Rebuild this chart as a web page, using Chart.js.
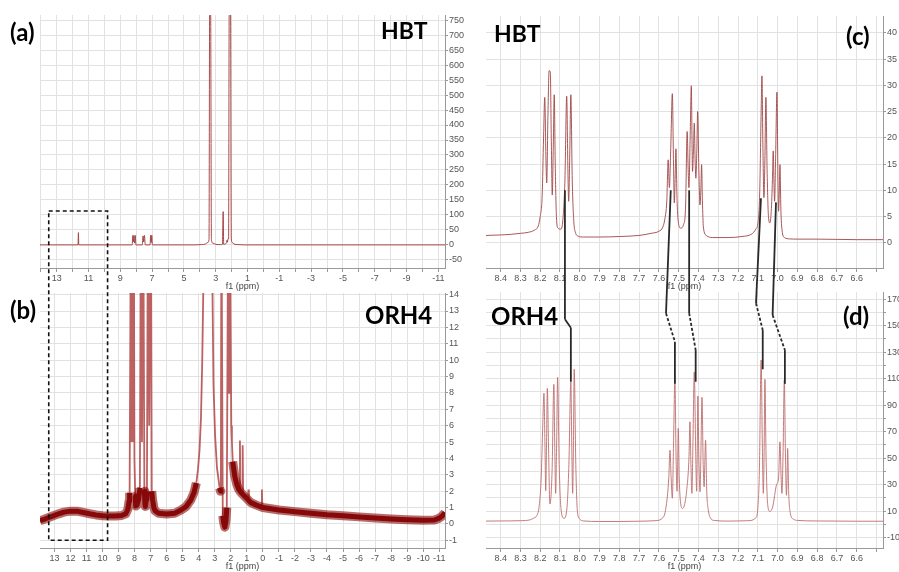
<!DOCTYPE html>
<html>
<head>
<meta charset="utf-8">
<script src="https://cdn.jsdelivr.net/npm/chart.js@4.4.0/dist/chart.umd.min.js"></script>
<style>
  html, body { margin: 0; padding: 0; background: #fff; }
  #wrap { position: relative; width: 899px; height: 572px; overflow: hidden; }
  #wrap canvas { position: absolute; }
  .lbl { position: absolute; font-family: Lato, "Open Sans", sans-serif; font-weight: 700; color: #000; line-height: 1; white-space: nowrap; }
</style>
</head>
<body>
<div id="wrap">
  <canvas id="chartA" width="470" height="292" style="left:0;top:0"></canvas>
  <canvas id="chartB" width="470" height="290" style="left:0;top:282px"></canvas>
  <canvas id="chartC" width="429" height="292" style="left:470px;top:0"></canvas>
  <canvas id="chartD" width="429" height="290" style="left:470px;top:282px"></canvas>
  <canvas id="overlay" width="899" height="572" style="left:0;top:0"></canvas>
  <div class="lbl" style="left:10px;top:20px;font-size:24px">(a)</div>
  <div class="lbl" style="left:381px;top:19px;font-size:23px">HBT</div>
  <div class="lbl" style="left:10px;top:298px;font-size:24px">(b)</div>
  <div class="lbl" style="left:365px;top:303px;font-size:24px">ORH4</div>
  <div class="lbl" style="left:494px;top:22px;font-size:23px">HBT</div>
  <div class="lbl" style="left:846px;top:24px;font-size:24px">(c)</div>
  <div class="lbl" style="left:491px;top:304px;font-size:24px">ORH4</div>
  <div class="lbl" style="left:843px;top:304px;font-size:24px">(d)</div>
</div>
<script>
// ---- data: [ppm, intensity] ----

// (a) HBT full spectrum
const hbtFull = [
  [14.05, 0], [11.66, 0], [11.635, 41], [11.61, 0],
  [8.25, 0], [8.21, 32], [8.18, 10], [8.14, 31], [8.1, 6], [8.06, 32], [8.02, 0],
  [7.62, 0], [7.57, 30], [7.53, 10], [7.48, 32], [7.43, 0],
  [7.13, 0], [7.09, 33], [7.05, 8], [7.02, 32], [6.98, 0],
  [4.3, 0], [3.9, 1], [3.65, 3], [3.5, 8], [3.42, 18], [3.38, 800], [3.32, 800], [3.27, 18],
  [3.18, 6], [3.0, 2], [2.7, 1], [2.58, 2], [2.53, 111], [2.5, 2], [2.4, 3], [2.32, 8],
  [2.29, 16], [2.26, 9], [2.23, 20], [2.19, 20], [2.15, 800], [2.07, 800], [2.02, 20],
  [1.96, 8], [1.85, 3], [1.6, 1], [1.2, 0], [-11.42, 0]
];

// (b) ORH4 full spectrum: centre of the noisy baseline band
const orhBand = [
  [13.9, 0.2], [13.6, 0.3], [13.2, 0.45], [12.8, 0.6], [12.4, 0.72], [12.0, 0.78], [11.6, 0.78],
  [11.2, 0.7], [10.8, 0.62], [10.4, 0.55], [10.0, 0.5], [9.6, 0.48], [9.2, 0.48], [8.8, 0.52],
  [8.55, 0.62], [8.42, 0.9], [8.34, 1.4], [8.31, 1.9], [8.3, null],
  [7.96, 1.7], [7.93, 1.1], [7.85, 1.15], [7.75, 1.5], [7.69, 2.0], [7.67, 2.2], [7.66, null],
  [7.39, 2.0], [7.36, 1.3], [7.33, 1.07], [7.27, 1.5], [7.23, 2.0], [7.22, null],
  [6.93, 2.0], [6.88, 1.5], [6.8, 1.0], [6.72, 0.8], [6.5, 0.65], [6.0, 0.6], [5.5, 0.65],
  [5.1, 0.85], [4.8, 1.05], [4.5, 1.45], [4.3, 1.9], [4.15, 2.5], [4.14, null],
  [2.7, 2.2], [2.64, 2.0], [2.62, 2.1], [2.61, null],
  [2.5, 0.5], [2.44, 0.05], [2.37, -0.2], [2.3, 0.2], [2.25, 1.0], [2.24, null],
  [1.88, 3.8], [1.75, 2.9], [1.62, 2.4], [1.5, 2.1], [1.35, 1.9], [1.15, 1.7],
  [0.95, 1.5], [0.75, 1.3], [0.4, 1.15], [0.0, 1.0], [-1, 0.85], [-2, 0.75], [-3, 0.65],
  [-4, 0.56], [-5, 0.5], [-6, 0.43], [-7, 0.36], [-8, 0.3], [-9, 0.26], [-10, 0.22],
  [-10.7, 0.24], [-11.0, 0.35], [-11.2, 0.5], [-11.36, 0.7]
];

// (b) ORH4 full spectrum: peaks running off the top of the panel
const orhPeaks = [
  [8.31, 1.9], [8.23, 20], [8.19, 5], [8.15, 20], [8.1, 5], [8.05, 20], [8.01, 4], [7.96, 1.7], [7.95, null],
  [7.67, 2.2], [7.61, 20], [7.54, 5], [7.46, 20], [7.39, 2.0], [7.38, null],
  [7.23, 2.0], [7.17, 20], [7.09, 6], [6.98, 20], [6.93, 2.0], [6.92, null],
  [4.15, 2.5], [4.05, 3.3], [3.95, 4.5], [3.86, 6.5], [3.78, 10], [3.72, 14], [3.66, 20], [3.2, 20],
  [3.14, 14], [3.08, 8.5], [2.98, 5.4], [2.86, 3.4], [2.75, 2.6], [2.7, 2.2], [2.62, 2.1],
  [2.585, 20], [2.55, 20], [2.5, 0.5], [2.49, null],
  [2.25, 1.0], [2.16, 20], [2.11, 8], [2.05, 20], [1.97, 6], [1.93, 5], [1.88, 3.8], [1.87, null],
  [1.46, 2.0], [1.43, 5.1], [1.4, 2.0], [1.39, null],
  [1.29, 1.9], [1.26, 4.8], [1.23, 1.9], [1.22, null],
  [0.93, 1.5], [0.9, 2.1], [0.87, 1.5], [0.86, null],
  [0.09, 1.0], [0.06, 2.1], [0.03, 1.0]
];

// (c) HBT aromatic region
const hbtZoom = [
  [8.474, 1.4], [8.4, 1.5], [8.35, 1.6], [8.3, 1.8], [8.26, 2.0], [8.23, 2.4], [8.21, 3.2],
  [8.2, 5.0], [8.19, 9], [8.183, 20], [8.177, 27.7], [8.171, 16], [8.167, 11.4], [8.161, 24],
  [8.155, 32.8], [8.149, 32.5], [8.144, 20], [8.139, 9.1], [8.134, 18], [8.129, 28.2],
  [8.124, 15], [8.118, 5], [8.11, 2.8], [8.095, 2.6], [8.085, 4.5], [8.075, 12], [8.066, 27.9],
  [8.06, 14], [8.056, 7.9], [8.051, 16], [8.045, 28.2], [8.038, 12], [8.03, 4], [8.022, 2.0],
  [8.01, 1.3], [7.98, 1.1], [7.9, 1.1], [7.8, 1.2], [7.7, 1.4], [7.64, 1.8], [7.6, 2.2],
  [7.58, 3.0], [7.57, 4.5], [7.56, 8], [7.553, 15.8], [7.547, 10.5], [7.54, 18], [7.532, 28.4],
  [7.526, 15], [7.522, 7.6], [7.518, 12], [7.514, 17.9], [7.508, 8], [7.5, 3.5], [7.49, 2.8],
  [7.475, 3.5], [7.465, 7], [7.457, 21.2], [7.452, 14], [7.448, 10.5], [7.442, 20], [7.436, 29.9],
  [7.432, 18], [7.43, 13.6], [7.425, 18], [7.421, 22.8], [7.417, 16], [7.413, 12.3], [7.408, 18],
  [7.404, 25], [7.398, 14], [7.392, 7.2], [7.388, 10], [7.384, 14.9], [7.38, 8], [7.375, 3],
  [7.36, 1.4], [7.33, 1.0], [7.25, 1.0], [7.18, 1.2], [7.13, 1.7], [7.11, 2.6], [7.098, 4.1],
  [7.09, 10], [7.083, 25], [7.079, 31.8], [7.074, 18], [7.069, 8.6], [7.064, 16], [7.059, 27.7],
  [7.053, 14], [7.046, 5], [7.039, 3.8], [7.032, 6], [7.026, 12], [7.022, 17.5], [7.018, 11],
  [7.015, 7.9], [7.01, 16], [7.003, 28.7], [6.998, 12], [6.995, 6.0], [6.991, 10], [6.988, 14.9],
  [6.983, 6], [6.976, 2], [6.965, 1.0], [6.94, 0.75], [6.9, 0.7], [6.8, 0.7], [6.7, 0.65],
  [6.6, 0.6], [6.467, 0.6]
];

// (d) ORH4 aromatic region
const orhZoom = [
  [8.474, 2.5], [8.4, 2.6], [8.3, 2.8], [8.25, 3.5], [8.23, 5], [8.22, 6], [8.205, 14],
  [8.195, 35], [8.188, 70], [8.181, 99], [8.176, 60], [8.172, 25.4], [8.168, 60], [8.164, 102.6],
  [8.158, 60], [8.151, 15.4], [8.14, 40], [8.131, 105.6], [8.126, 55], [8.122, 23.4], [8.117, 60],
  [8.112, 110.9], [8.104, 45], [8.095, 12], [8.08, 4.6], [8.065, 12], [8.055, 45], [8.045, 107.6],
  [8.04, 55], [8.036, 23.4], [8.032, 60], [8.028, 117], [8.02, 45], [8.012, 10], [8.0, 4],
  [7.98, 2.6], [7.9, 2.2], [7.8, 2.2], [7.7, 2.4], [7.62, 2.8], [7.58, 5], [7.565, 12], [7.55, 35],
  [7.544, 56], [7.538, 35], [7.532, 19.7], [7.526, 60], [7.519, 109], [7.513, 50], [7.508, 25],
  [7.505, 45], [7.502, 72.4], [7.497, 35], [7.49, 16], [7.48, 12], [7.47, 15], [7.46, 25],
  [7.448, 50], [7.443, 77.4], [7.438, 45], [7.433, 23.4], [7.428, 60], [7.421, 115], [7.414, 55],
  [7.409, 25], [7.406, 55], [7.403, 96.8], [7.398, 50], [7.392, 24.6], [7.388, 50], [7.382, 95.8],
  [7.376, 45], [7.371, 28.4], [7.368, 45], [7.364, 63.6], [7.358, 25], [7.35, 10.8], [7.34, 5],
  [7.32, 3], [7.25, 2.5], [7.15, 2.8], [7.11, 5], [7.1, 12], [7.092, 40], [7.083, 124], [7.077, 60],
  [7.072, 23.4], [7.068, 55], [7.064, 109.4], [7.058, 50], [7.05, 15], [7.039, 9.8], [7.025, 13],
  [7.005, 30], [6.995, 35], [6.988, 62.3], [6.982, 35], [6.978, 23.4], [6.972, 55], [6.966, 108.9],
  [6.96, 50], [6.955, 22], [6.952, 35], [6.949, 57.3], [6.944, 25], [6.935, 8], [6.92, 4],
  [6.9, 3], [6.8, 2.6], [6.7, 2.5], [6.6, 2.4], [6.467, 2.4]
];

// connector lines between matching peaks of (c) and (d)
const linkStartC = [[8.075, 10], [7.54, 10], [7.447, 10], [7.084, 8.5], [7.008, 7.7]];
const linkKneeD = [[8.075, 154.7], [7.564, 159.2], [7.447, 159.4], [7.109, 166.8], [7.025, 157.9]];
const linkBendD = [[8.045, 148.4], [7.519, 137.8], [7.414, 131.5], [7.075, 146.6], [6.963, 131.5]];
const linkEndD = [[8.045, 107.6], [7.519, 106], [7.414, 107.6], [7.075, 117], [6.963, 106]];
const linkDashed = [false, true, true, true, true];

// dashed box marking the 13.5 - 9.8 ppm window in (a) and (b)
const boxPpm = [13.5, 9.8];
const boxTopA = 113;
const boxBottomB = -1;

// ---- helpers ----
const tickFont = { family: "'Liberation Sans', Arial, sans-serif", size: 9 };
const gridColor = "#e2e2e2";

function xAxis(min, max, step, labelFn) {
  return {
    type: "linear",
    reverse: true,
    min: min,
    max: max,
    ticks: {
      stepSize: step, autoSkip: false, maxRotation: 0, includeBounds: false,
      font: tickFont, color: "#555", padding: 1, callback: labelFn,
    },
    grid: { color: gridColor, tickLength: 4, tickColor: "#999" },
    border: { color: "#999" },
    title: { display: true, text: "f1 (ppm)", font: tickFont, color: "#444", padding: 0 },
    afterFit: function (s) { s.height = 24; },
  };
}

function yAxis(min, max, step, labelFn, width) {
  return {
    position: "right",
    min: min,
    max: max,
    ticks: {
      stepSize: step, autoSkip: false, includeBounds: false,
      font: tickFont, color: "#555", padding: 1, callback: labelFn,
    },
    grid: { color: gridColor, tickLength: 3, tickColor: "#999" },
    border: { color: "#999" },
    afterFit: function (s) { s.width = width; },
  };
}

function makePanel(id, datasets, xScale, yScale, pad) {
  return new Chart(document.getElementById(id), {
    type: "line",
    data: { datasets: datasets },
    options: {
      responsive: false,
      animation: false,
      devicePixelRatio: 1,
      layout: { padding: pad },
      plugins: { legend: { display: false }, tooltip: { enabled: false } },
      elements: { point: { radius: 0 } },
      scales: { x: xScale, y: yScale },
    },
  });
}

const oddOnly = (v) => (Math.abs(Math.round(v)) % 2 === 1 ? String(Math.round(v)) : "");
const intLabel = (v) => String(Math.round(v));
// the 6.5 tick sits at the very edge and carries no label in the original
const oneDec = (v) => (v < 6.55 ? "" : v.toFixed(1));
const oddTens = (v) => (Math.abs(Math.round(v)) % 20 === 10 ? String(Math.round(v)) : "");

// ---- panels ----
const chartA = makePanel("chartA",
  [{ data: hbtFull, borderColor: "rgba(160,55,55,0.9)", borderWidth: 1, cubicInterpolationMode: "monotone" }],
  xAxis(-11.42, 14.05, 1, oddOnly),
  yAxis(-77, 767, 50, intLabel, 25),
  { left: 40, top: 15, right: 0, bottom: 0 });

const chartB = makePanel("chartB",
  [
    { data: orhBand, borderColor: "#860808", borderWidth: 5, tension: 0, borderJoinStyle: "round", borderCapStyle: "butt" },
    { data: orhBand, borderColor: "rgba(135,10,10,0.6)", borderWidth: 9, tension: 0, borderJoinStyle: "round", borderCapStyle: "butt" },
    { data: orhPeaks, borderColor: "rgba(178,70,70,0.85)", borderWidth: 1.8, tension: 0 },
  ],
  xAxis(-11.36, 13.9, 1, intLabel),
  yAxis(-1.47, 14.1, 1, intLabel, 25),
  { left: 40, top: 11, right: 0, bottom: 0 });

const chartC = makePanel("chartC",
  [{ data: hbtZoom, borderColor: "rgba(160,70,70,0.9)", borderWidth: 1, cubicInterpolationMode: "monotone" }],
  xAxis(6.467, 8.474, 0.1, oneDec),
  yAxis(-4.8, 43.2, 5, intLabel, 16),
  { left: 16, top: 16, right: 0, bottom: 0 });

const chartD = makePanel("chartD",
  [{ data: orhZoom, borderColor: "rgba(190,110,110,0.9)", borderWidth: 1, cubicInterpolationMode: "monotone" }],
  xAxis(6.467, 8.474, 0.1, oneDec),
  yAxis(-17.8, 175.3, 10, oddTens, 16),
  { left: 16, top: 10, right: 0, bottom: 0 });

// ---- overlay: dashed box and connector lines, placed through the chart scales ----
function pagePoint(chart, left, top, p) {
  return [left + chart.scales.x.getPixelForValue(p[0]), top + chart.scales.y.getPixelForValue(p[1])];
}

const ov = document.getElementById("overlay").getContext("2d");

// dashed box spanning (a) and (b)
const bx0 = chartA.scales.x.getPixelForValue(boxPpm[0]);
const bx1 = chartA.scales.x.getPixelForValue(boxPpm[1]);
const by0 = chartA.scales.y.getPixelForValue(boxTopA);
const by1 = 282 + chartB.scales.y.getPixelForValue(boxBottomB);
ov.save();
ov.strokeStyle = "#111";
ov.lineWidth = 1.6;
ov.setLineDash([4, 3]);
ov.strokeRect(bx0, by0, bx1 - bx0, by1 - by0);
ov.restore();

// connectors from (c) to (d)
ov.strokeStyle = "#2a2a2a";
ov.lineWidth = 1.8;
for (let i = 0; i < linkStartC.length; i++) {
  const p0 = pagePoint(chartC, 470, 0, linkStartC[i]);
  const p1 = pagePoint(chartD, 470, 282, linkKneeD[i]);
  const p2 = pagePoint(chartD, 470, 282, linkBendD[i]);
  const p3 = pagePoint(chartD, 470, 282, linkEndD[i]);
  ov.setLineDash([]);
  ov.beginPath(); ov.moveTo(p0[0], p0[1]); ov.lineTo(p1[0], p1[1]); ov.stroke();
  ov.setLineDash(linkDashed[i] ? [3, 2] : []);
  ov.beginPath(); ov.moveTo(p1[0], p1[1]); ov.lineTo(p2[0], p2[1]); ov.stroke();
  ov.setLineDash([]);
  ov.beginPath(); ov.moveTo(p2[0], p2[1]); ov.lineTo(p3[0], p3[1]); ov.stroke();
}
</script>
</body>
</html>
